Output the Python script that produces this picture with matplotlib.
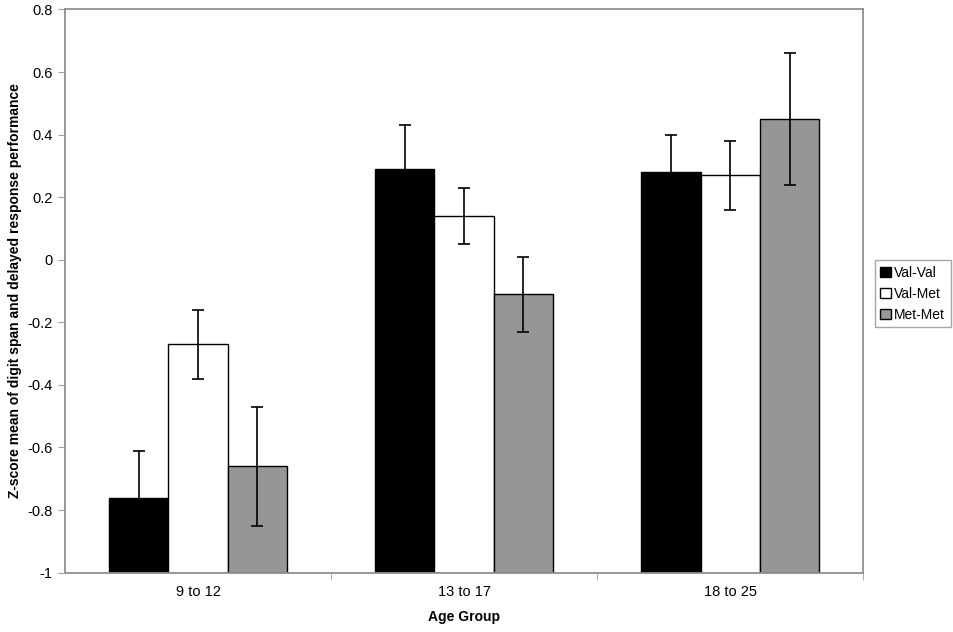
import numpy as np
import matplotlib.pyplot as plt
from matplotlib.patches import Patch

plt.rcParams['font.family'] = ['Liberation Sans', 'DejaVu Sans']

groups = ['9 to 12', '13 to 17', '18 to 25']
series = ['Val-Val', 'Val-Met', 'Met-Met']
means = {
    'Val-Val': [-0.76, 0.29, 0.28],
    'Val-Met': [-0.27, 0.14, 0.27],
    'Met-Met': [-0.66, -0.11, 0.45],
}
errs = {
    'Val-Val': [0.15, 0.14, 0.12],
    'Val-Met': [0.11, 0.09, 0.11],
    'Met-Met': [0.19, 0.12, 0.21],
}
colors = {'Val-Val': '#000000', 'Val-Met': '#ffffff', 'Met-Met': '#969696'}

fig = plt.figure(figsize=(9.54, 6.32), dpi=100)
ax = fig.add_axes([0.068, 0.094, 0.837, 0.891])

base = -1.0
x = np.arange(len(groups))
w = 0.223
for i, s in enumerate(series):
    pos = x + (i - 1) * w
    vals = np.array(means[s])
    ax.bar(pos, vals - base, bottom=base, width=w, color=colors[s],
           edgecolor='black', linewidth=1.0, zorder=2)
    ax.errorbar(pos, vals, yerr=errs[s], fmt='none', ecolor='black',
                elinewidth=1.2, capsize=4, capthick=1.2, zorder=3)

ax.set_xlim(-0.5, 2.5)
ax.set_ylim(-1, 0.8)
ax.set_yticks(np.arange(-1, 0.81, 0.2))
ax.set_yticklabels(['-1', '-0.8', '-0.6', '-0.4', '-0.2', '0', '0.2', '0.4', '0.6', '0.8'])
ax.set_xticks(x)
ax.set_xticklabels(groups)
ax.set_xticks([0.5, 1.5, 2.5], minor=True)
ax.tick_params(axis='x', which='major', length=0, pad=9, labelsize=10.5)
ax.tick_params(axis='x', which='minor', length=5, color='#a0a0a0')
ax.tick_params(axis='y', length=5, color='#a0a0a0', labelsize=10.5, pad=4)

for sp in ax.spines.values():
    sp.set_color('#909090')
    sp.set_linewidth(1.3)

ax.set_xlabel('Age Group', fontsize=10, fontweight='bold', labelpad=8)
ax.set_ylabel('Z-score mean of digit span and delayed response performance',
              fontsize=10, fontweight='bold')
ax.yaxis.set_label_coords(-0.054, 0.5)

handles = [Patch(facecolor=colors[s], edgecolor='black', label=s) for s in series]
leg = fig.legend(handles=handles, loc='center left', bbox_to_anchor=(0.917, 0.535),
                 frameon=True, fancybox=False, fontsize=10, handlelength=0.75,
                 handleheight=0.75, handletextpad=0.25, borderpad=0.4,
                 labelspacing=0.5, borderaxespad=0)
leg.get_frame().set_edgecolor('#909090')
leg.get_frame().set_linewidth(1.0)

fig.savefig('out.png', dpi=100)
